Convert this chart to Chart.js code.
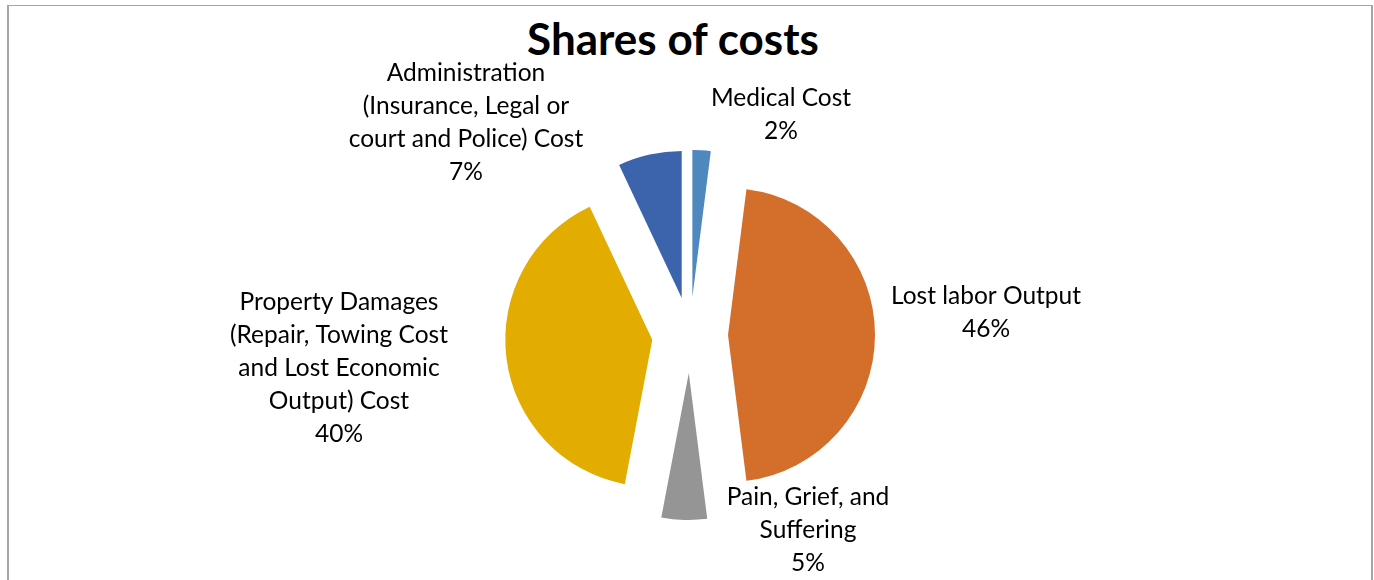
<!DOCTYPE html>
<html>
<head>
<meta charset="utf-8">
<title>Shares of costs</title>
<script src="https://cdn.jsdelivr.net/npm/chart.js@4.4.1/dist/chart.umd.min.js"></script>
<style>
  html, body { margin: 0; padding: 0; background: #fff; }
  body { width: 1374px; height: 580px; position: relative; overflow: hidden; }
  #frame {
    position: absolute; left: 7px; top: 5px; width: 1362px; height: 640px;
    border: 2px solid #a6a6a6; border-top-width: 1px;
  }
  #title {
    position: absolute; left: 0; top: 12px; width: 1346px;
    text-align: center; font: bold 44px Lato, sans-serif; color: #000;
  }
  #chart { position: absolute; left: 0; top: 0; }
</style>
</head>
<body>
<div id="frame"></div>
<div id="title">Shares of costs</div>
<canvas id="chart" width="1374" height="580"></canvas>
<script>
        // cost categories, one array of text lines per slice
        const categories = [
            ['Medical Cost'],
            ['Lost labor Output'],
            ['Pain, Grief, and', 'Suffering'],
            ['Property Damages', '(Repair, Towing Cost', 'and Lost Economic', 'Output) Cost'],
            ['Administration', '(Insurance, Legal or', 'court and Police) Cost']
        ];
        const shares = [2, 46, 5, 40, 7];
        const sliceColors = ['#4e88bf', '#d46f2b', '#959595', '#e2ac00', '#3c64ac'];

        const pieRadius = 147;
        const explode = 38;      // how far each slice is pulled out, px
        const lineHeight = 33;
        // label block centres, relative to the pie centre
        const labelOffsets = [[91, -220], [296, -22], [118, 195], [-351, 33], [-224, -212]];

        // pull every slice out along its middle angle
        const explodeSlices = {
            id: 'explodeSlices',
            afterDatasetUpdate(chart, args) {
                args.meta.data.forEach(arc => {
                    const mid = (arc.startAngle + arc.endAngle) / 2;
                    arc.x += Math.cos(mid) * explode;
                    arc.y += Math.sin(mid) * explode;
                });
            }
        };

        const sliceLabels = {
            id: 'sliceLabels',
            afterDatasetsDraw(chart) {
                const ctx = chart.ctx;
                const area = chart.chartArea;
                const px = (area.left + area.right) / 2;
                const py = (area.top + area.bottom) / 2;
                const total = shares.reduce((a, b) => a + b, 0);
                ctx.save();
                ctx.font = '24.5px Lato, sans-serif';
                ctx.fillStyle = '#000';
                ctx.textAlign = 'center';
                ctx.textBaseline = 'middle';
                categories.forEach((name, i) => {
                    const lines = name.concat(Math.round(shares[i] / total * 100) + '%');
                    const cx = px + labelOffsets[i][0];
                    const top = py + labelOffsets[i][1] - (lines.length - 1) * lineHeight / 2;
                    lines.forEach((t, k) => ctx.fillText(t, cx, top + k * lineHeight));
                });
                ctx.restore();
            }
        };

        new Chart(document.getElementById('chart'), {
            type: 'pie',
            data: {
                labels: categories,
                datasets: [{
                    data: shares,
                    backgroundColor: sliceColors,
                    borderWidth: 0,
                    radius: pieRadius,
                    hoverOffset: 0,
                    clip: false
                }]
            },
            options: {
                responsive: false,
                animation: false,
                events: [],
                layout: { padding: { left: 6, right: 0, top: 100, bottom: 10 } },
                plugins: {
                    legend: { display: false },
                    tooltip: { enabled: false },
                    title: { display: false }
                }
            },
            plugins: [explodeSlices, sliceLabels]
        });
</script>
</body>
</html>
